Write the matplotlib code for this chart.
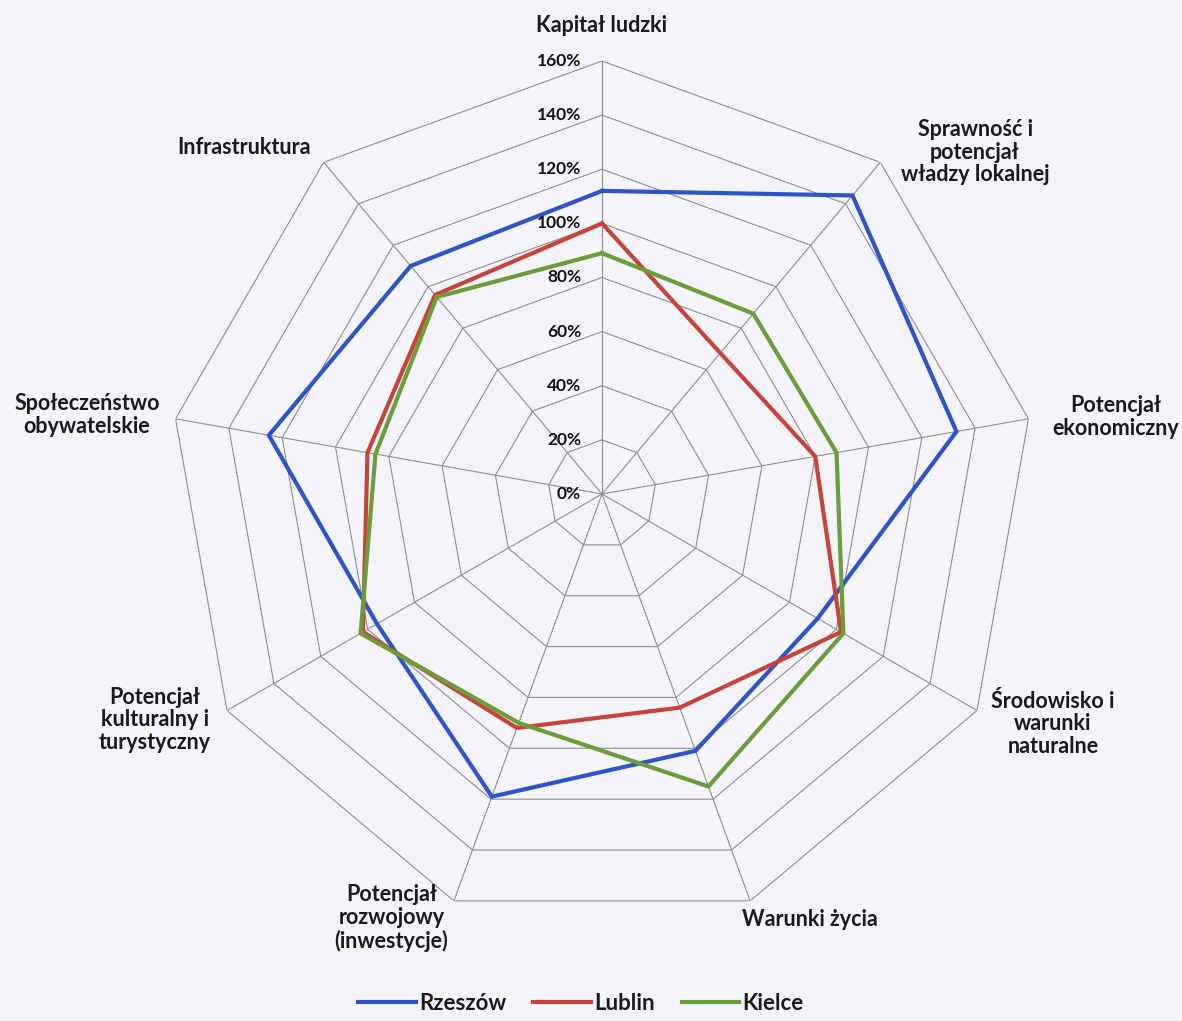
import numpy as np
import matplotlib.pyplot as plt
from matplotlib.transforms import offset_copy

# kategorie (zgodnie z ruchem wskazowek zegara od gory)
kategorie = ['Kapitał ludzki',
             'Sprawność i\npotencjał\nwładzy lokalnej',
             'Potencjał\nekonomiczny',
             'Środowisko i\nwarunki\nnaturalne',
             'Warunki życia',
             'Potencjał\nrozwojowy\n(inwestycje)',
             'Potencjał\nkulturalny i\nturystyczny',
             'Społeczeństwo\nobywatelskie',
             'Infrastruktura']

# wartosci w %
rzeszow = [112, 144, 133, 92, 101, 119, 96, 125, 110]
lublin = [100, 68, 80, 102, 84, 92, 102, 88, 96]
kielce = [89, 87, 88, 103, 115, 90, 103, 85, 95]

miasta = ['Rzeszów', 'Lublin', 'Kielce']
kolory = ['#2d55c8', '#c8443a', '#6b9e3a']

poziomy = [20, 40, 60, 80, 100, 120, 140, 160]
etykiety_osi = ['0%', '20%', '40%', '60%', '80%', '100%', '120%', '140%', '160%']

# polozenie etykiet kategorii (kat w stopniach, promien w %)
pozycje_etykiet = [(0, 173), (47.5, 187), (81.5, 192), (117, 187), (154, 175),
                   (206.4, 175), (243.2, 185), (278.7, 192.5), (314.1, 184)]

W, H = 1182, 1021
fig = plt.figure(figsize=(W / 100, H / 100), dpi=100)
fig.patch.set_facecolor('#f4f4fa')

cx, cy, R = 602, 494, 433
ax = fig.add_axes([(cx - R) / W, (H - cy - R) / H, 2 * R / W, 2 * R / H],
                  projection='polar')
ax.set_theta_zero_location('N')
ax.set_theta_direction(-1)
ax.set_ylim(0, 160)
ax.set_axis_off()

n = len(kategorie)
katy = np.linspace(0, 2 * np.pi, n, endpoint=False)
katy_z = np.append(katy, katy[0])

# siatka wielokatna
for p in poziomy:
    ax.plot(katy_z, [p] * (n + 1), color='#8f8f8f', lw=0.8, zorder=1)
for k in katy:
    ax.plot([k, k], [0, 160], color='#8f8f8f', lw=0.8, zorder=1)

# serie
for nazwa, dane, kol in zip(miasta, [rzeszow, lublin, kielce], kolory):
    ax.plot(katy_z, dane + dane[:1], color=kol, lw=3, label=nazwa, zorder=3,
            solid_joinstyle='miter')

# etykiety skali
tr = offset_copy(ax.transData, fig=fig, x=-21, y=0, units='dots')
for i, lab in enumerate(etykiety_osi):
    ax.text(0, i * 20, lab, transform=tr, ha='right', va='center',
            fontsize=12.5, fontweight='bold', family='Lato', color='#111111',
            zorder=4)

# etykiety kategorii
for lab, (kat, r) in zip(kategorie, pozycje_etykiet):
    ax.text(np.deg2rad(kat), r, lab, ha='center', va='center',
            fontsize=15.5, fontweight='bold', family='Lato', color='#1a1a1a',
            linespacing=1.1, clip_on=False)

leg = fig.legend(loc='center', bbox_to_anchor=(581 / W, 18 / H), ncol=3,
                 frameon=False, prop={'family': 'Lato', 'weight': 'bold', 'size': 16},
                 handlelength=2.6, handletextpad=0.15, columnspacing=1.2)
for t in leg.get_texts():
    t.set_color('#1a1a1a')

fig.savefig('out.png', dpi=100, facecolor=fig.get_facecolor())
